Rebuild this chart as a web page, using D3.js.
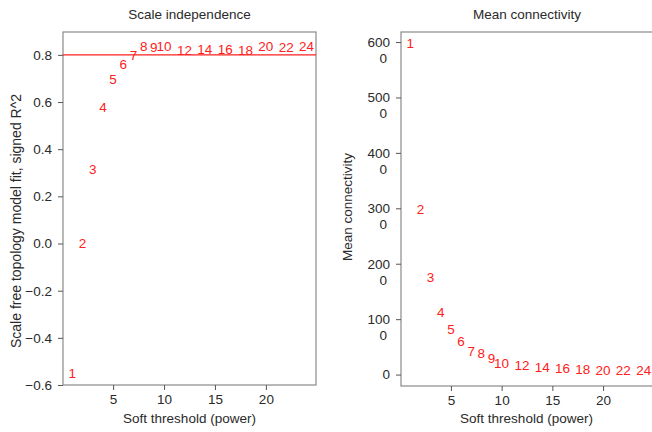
<!DOCTYPE html>
<html>
<head>
<meta charset="utf-8">
<script src="https://cdn.jsdelivr.net/npm/d3@7"></script>
<style>
  body { margin: 0; background: #fff; }
  text { font-family: "Liberation Sans", Arial, sans-serif; }
</style>
</head>
<body>
<div class="canvas"></div>
<script>
// soft-threshold powers and the two fit results
const powers = [1, 2, 3, 4, 5, 6, 7, 8, 9, 10, 12, 14, 16, 18, 20, 22, 24];
const sftFit = [-0.55, 0.0, 0.316, 0.578, 0.697, 0.762, 0.797, 0.835, 0.833, 0.835, 0.821, 0.824, 0.824, 0.818, 0.835, 0.831, 0.838];
const meanK = [5980, 2990, 1750, 1120, 820, 596, 421, 380, 300, 199, 163, 137, 119, 90, 86, 78, 72];

const xTicks = [5, 10, 15, 20];
const fitTicks = [-0.6, -0.4, -0.2, 0.0, 0.2, 0.4, 0.6, 0.8];
const kTicks = [0, 1000, 2000, 3000, 4000, 5000, 6000];
const cutoff = 0.8;

const dims = { width: 652, height: 432, fs: 13.5 };
const red = "#ff2020";
const ink = "#2a2a2a";

const svg = d3
  .select(".canvas")
  .append("svg")
  .attr("width", dims.width)
  .attr("height", dims.height);

const drawPanel = (opt) => {
  const x = d3.scaleLinear().domain([0.08, 24.92]).range([opt.left, opt.right]);
  const y = d3.scaleLinear().domain(opt.yDomain).range([opt.bottom, opt.top]);

  const g = svg.append("g");

  // box
  g.append("rect")
    .attr("x", opt.left)
    .attr("y", opt.top)
    .attr("width", opt.right - opt.left)
    .attr("height", opt.bottom - opt.top)
    .attr("fill", "none")
    .attr("stroke", "#8a8a8a")
    .attr("stroke-width", 1.2);

  const xAxis = g
    .append("g")
    .attr("transform", `translate(0, ${opt.bottom})`)
    .call(d3.axisBottom(x).tickValues(xTicks).tickSize(5).tickPadding(4).tickFormat(d3.format("d")));

  const yAxis = g
    .append("g")
    .attr("transform", `translate(${opt.left}, 0)`)
    .call(d3.axisLeft(y).tickValues(opt.yTicks).tickSize(5).tickPadding(6).tickFormat(opt.yFormat));

  [xAxis, yAxis].forEach((a) => {
    a.select(".domain").remove();
    a.selectAll("line").attr("stroke", "#555");
    a.selectAll("text").attr("fill", ink).style("font-size", dims.fs + "px");
  });

  // R wraps the 4-digit labels: "600" / "0"
  if (opt.wrap) {
    yAxis.selectAll(".tick text").each(function (d) {
      const s = String(d);
      if (s.length < 4) return;
      const t = d3.select(this).text(null);
      t.append("tspan").attr("x", -11).text(s.slice(0, -1));
      t.append("tspan").attr("x", -14).attr("dy", "1.2em").text(s.slice(-1));
    });
  }

  if (opt.hline != null) {
    g.append("line")
      .attr("x1", opt.left)
      .attr("x2", opt.right)
      .attr("y1", y(opt.hline))
      .attr("y2", y(opt.hline))
      .attr("stroke", red)
      .attr("stroke-width", 1.3);
  }

  g.selectAll(".pt")
    .data(powers)
    .enter()
    .append("text")
    .attr("class", "pt")
    .attr("x", (d) => x(d))
    .attr("y", (d, i) => y(opt.values[i]))
    .attr("dy", "0.35em")
    .attr("text-anchor", "middle")
    .attr("fill", red)
    .style("font-size", dims.fs + "px")
    .text((d) => d);

  const cx = (opt.left + opt.right) / 2;

  // titles
  g.append("text")
    .attr("x", cx)
    .attr("y", 19)
    .attr("text-anchor", "middle")
    .attr("fill", ink)
    .style("font-size", dims.fs + "px")
    .text(opt.title);

  g.append("text")
    .attr("x", (opt.left + Math.min(opt.right, dims.width)) / 2)
    .attr("y", 423)
    .attr("text-anchor", "middle")
    .attr("fill", ink)
    .style("font-size", dims.fs + "px")
    .text("Soft threshold (power)");

  g.append("text")
    .attr("transform", `translate(${opt.ylabX}, ${opt.ylabY}) rotate(-90)`)
    .attr("text-anchor", "middle")
    .attr("fill", ink)
    .style("font-size", opt.ylabSize + "px")
    .text(opt.ylab);
};

drawPanel({
  left: 63,
  right: 316,
  top: 32,
  bottom: 385,
  yDomain: [-0.6, 0.897],
  yTicks: fitTicks,
  yFormat: d3.format(".1f"),
  values: sftFit,
  hline: cutoff,
  title: "Scale independence",
  ylab: "Scale free topology model fit, signed R^2",
  ylabX: 21,
  ylabY: 221,
  ylabSize: 14,
  wrap: false,
});

drawPanel({
  left: 401,
  right: 653,
  top: 32,
  bottom: 386,
  yDomain: [-206, 6181],
  yTicks: kTicks,
  yFormat: d3.format("d"),
  values: meanK,
  hline: null,
  title: "Mean connectivity",
  ylab: "Mean connectivity",
  ylabX: 352,
  ylabY: 207,
  ylabSize: 13.5,
  wrap: true,
});
</script>
</body>
</html>
